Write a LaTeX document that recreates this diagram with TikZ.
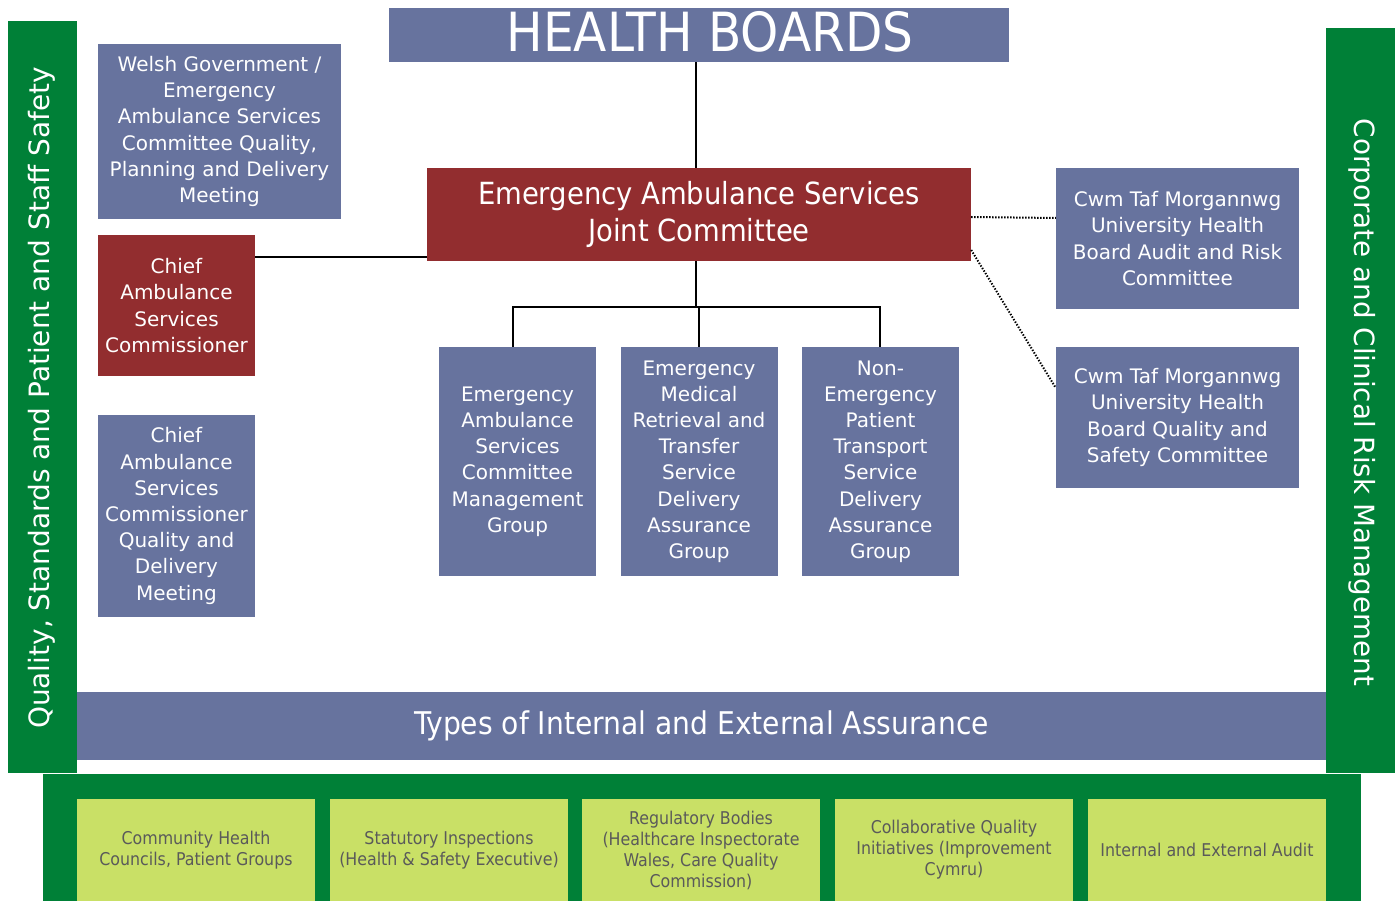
\documentclass[tikz,border=0pt]{standalone}
\usepackage{fontspec}
\setmainfont{DejaVu Sans}
\newfontfamily\condfont{DejaVu Sans Condensed}
\definecolor{slate}{HTML}{67739E}
\definecolor{wine}{HTML}{922D2F}
\definecolor{forest}{HTML}{008037}
\definecolor{lime}{HTML}{C9E066}
\definecolor{greytext}{HTML}{5A5A5A}
\begin{document}
\begin{tikzpicture}[x=1pt,y=-1pt,
  blockbox/.style={fill=slate,text=white,align=center,inner sep=0pt,
    font=\fontsize{20}{26.2}\selectfont},
  redbox/.style={blockbox,fill=wine},
  limebox/.style={fill=lime,text=greytext,align=center,inner sep=0pt,
    font=\condfont\fontsize{17.6}{21}\selectfont},
  band/.style={fill=forest,inner sep=0pt},
  link/.style={draw=black,line width=1.6pt},
  dotlink/.style={draw=black,line width=2pt,dash pattern=on 1.4pt off 1.6pt}]
\useasboundingbox (0,0) rectangle (1400,901);

% green frame bars
\node[band,minimum width=69,minimum height=752] (lbar) at (42.5,397) {};
\node[band,minimum width=69,minimum height=745] (rbar) at (1360.5,400.5) {};
\node[band,minimum width=1318,minimum height=128] (bbar) at (702,838) {};
\node[rotate=90,text=white,font=\fontsize{28}{32}\selectfont] (ltext) at (42,398) {Quality, Standards and Patient and Staff Safety};
\node[rotate=-90,text=white,font=\fontsize{27.8}{32}\selectfont] (rtext) at (1362,402.5) {Corporate and Clinical Risk Management};

% assurance types
\node[blockbox,minimum width=1249,minimum height=68,font=\condfont\fontsize{31.3}{34}\selectfont] (types) at (701.5,726) {Types of Internal and External Assurance};
\node[limebox,minimum width=238,minimum height=102] (a1) at (196,850) {Community Health\\Councils, Patient Groups};
\node[limebox,minimum width=238,minimum height=102] (a2) at (449,850) {Statutory Inspections\\(Health \& Safety Executive)};
\node[limebox,minimum width=238,minimum height=102] (a3) at (701,850) {Regulatory Bodies\\(Healthcare Inspectorate\\Wales, Care Quality\\Commission)};
\node[limebox,minimum width=238,minimum height=102] (a4) at (954,850) {Collaborative Quality\\Initiatives (Improvement\\Cymru)};
\node[limebox,minimum width=238,minimum height=102] (a5) at (1207,850) {Internal and External Audit};

% main structure
\node[blockbox,minimum width=620,minimum height=54,font=\condfont\fontsize{54}{56}\selectfont] (hb) at (699,35) {\hspace*{22pt}\raisebox{8pt}{HEALTH BOARDS}};
\node[redbox,minimum width=544,minimum height=93,font=\condfont\fontsize{30.5}{37}\selectfont] (jc) at (699,214.5) {Emergency Ambulance Services\\Joint Committee};
\node[blockbox,minimum width=243,minimum height=175] (wg) at (219.5,131.5) {Welsh Government /\\Emergency\\Ambulance Services\\Committee Quality,\\Planning and Delivery\\Meeting};
\node[redbox,minimum width=157,minimum height=141] (casc) at (176.5,305.5) {Chief\\Ambulance\\Services\\Commissioner};
\node[blockbox,minimum width=157,minimum height=202] (cqd) at (176.5,516) {Chief\\Ambulance\\Services\\Commissioner\\Quality and\\Delivery\\Meeting};
\node[blockbox,minimum width=157,minimum height=229] (m1) at (517.5,461.5) {Emergency\\Ambulance\\Services\\Committee\\Management\\Group};
\node[blockbox,minimum width=157,minimum height=229] (m2) at (699,461.5) {Emergency\\Medical\\Retrieval and\\Transfer\\Service\\Delivery\\Assurance\\Group};
\node[blockbox,minimum width=157,minimum height=229] (m3) at (880.5,461.5) {Non-\\Emergency\\Patient\\Transport\\Service\\Delivery\\Assurance\\Group};
\node[blockbox,minimum width=243,minimum height=141] (ar) at (1177.5,238.5) {Cwm Taf Morgannwg\\University Health\\Board Audit and Risk\\Committee};
\node[blockbox,minimum width=243,minimum height=141] (qs) at (1177.5,417.5) {Cwm Taf Morgannwg\\University Health\\Board Quality and\\Safety Committee};

% connectors
\coordinate (split) at (696,307);
\draw[link] (hb.south -| split) -- (jc.north -| split);
\draw[link] (jc.south -| split) -- (split);
\draw[link] (split) -- (split -| m2.north) -- (m2.north);
\draw[link] (split) -- (513,307) -- (513,347);
\draw[link] (split) -- (880,307) -- (880,347);
\draw[link] (jc.west |- 257,257) -- (casc.east |- 257,257);
\draw[dotlink] (jc.east |- 0,217) -- (ar.west |- 0,218);
\draw[dotlink] (jc.east |- 0,250) -- (qs.west |- 0,388);
\end{tikzpicture}
\end{document}
